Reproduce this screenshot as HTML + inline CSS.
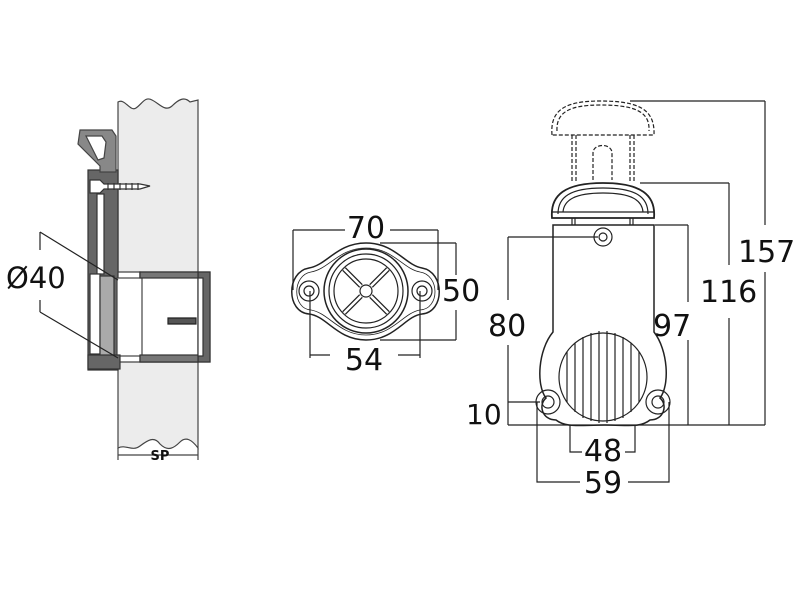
<!DOCTYPE html>
<html><head><meta charset="utf-8"><style>html,body{margin:0;padding:0;background:#fff}svg{display:block}text{font-family:"DejaVu Sans","Liberation Sans",sans-serif;fill:#111}</style></head>
<body>
<svg width="800" height="600" viewBox="0 0 800 600" xmlns="http://www.w3.org/2000/svg">
<g fill="none" stroke="#222" stroke-width="1.2">
<!-- LEFT VIEW: wall -->
<path d="M118,102 C125,98 130,112 136,108 C142,104 145,96 152,100 C160,104 165,112 172,106 C178,100 184,96 190,102 L198,100 L198,278 L140,278 L140,272 L118,272 Z" fill="#ececec" stroke="#444"/>
<path d="M118,362 L198,362 L198,448 C192,440 186,436 180,442 C174,448 168,452 160,444 C154,436 148,440 140,446 C132,452 126,444 118,448 Z" fill="#ececec" stroke="#444"/>
<!-- plate -->
<rect x="88" y="170" width="30" height="200" fill="#666" stroke="#333"/>
<rect x="97" y="194" width="7" height="80" fill="#fff" stroke="#333"/>
<rect x="90" y="274" width="10" height="80" fill="#fff" stroke="#333"/>
<rect x="100" y="276" width="14" height="80" fill="#aaa" stroke="#333"/>
<!-- hook -->
<path d="M80,130 L112,130 L116,136 L116,172 L100,172 L100,166 L78,144 Z" fill="#888" stroke="#444"/>
<path d="M86,136 L102,136 L106,142 L104,158 L98,160 Z" fill="#fff" stroke="#444"/>
<!-- screw -->
<path d="M90,180 L100,180 L104,184 L140,184 L150,186 L140,189 L104,189 L100,193 L90,193 Z" fill="#fff" stroke="#333"/>
<path d="M108,183 v7 M114,183 v7 M120,183 v7 M126,183 v7 M132,183 v7 M138,183 v7" stroke="#333"/>
<!-- pipe -->
<rect x="140" y="272" width="70" height="90" fill="#fff" stroke="#333"/>
<rect x="117" y="278" width="25" height="78" fill="#fff" stroke="#444"/>
<rect x="198" y="272" width="12" height="90" fill="#666" stroke="#333"/>
<rect x="140" y="272" width="58" height="6" fill="#777" stroke="#333"/>
<rect x="140" y="355" width="58" height="7" fill="#777" stroke="#333"/>
<rect x="198" y="278" width="5" height="78" fill="#fff" stroke="#333"/>
<path d="M168,318 L196,318 L196,324 L168,324 Z" fill="#555"/>
<rect x="88" y="355" width="32" height="14" fill="#666" stroke="#333"/>
<!-- SP dim -->
<line x1="118" y1="448" x2="118" y2="460" stroke="#444"/>
<line x1="198" y1="448" x2="198" y2="460" stroke="#444"/>
<line x1="118" y1="455" x2="198" y2="455" stroke="#444"/>
<!-- Ø40 dims -->
<path d="M40,232 L118,280 M40,312 L118,358 M40,232 V250 M40,300 V312"/>
</g>
<text x="160" y="460" font-size="13" font-weight="bold" text-anchor="middle">SP</text>
<text x="6" y="288" font-size="29">Ø40</text>

<!-- MIDDLE VIEW -->
<g fill="none" stroke="#222" stroke-width="1.2">
<path d="M293,230 H345 M390,230 H438 M293,230 V290 M438,230 V290"/>
<path d="M380,243 H456 M380,340 H456 M456,243 V275 M456,310 V340"/>
<path d="M310,291 V358 M420,291 V358 M310,355 H330 M398,355 H420"/>
<path d="M366,243 C395,243 405,265 422,268 C445,272 445,312 422,314 C405,316 395,340 366,340 C337,340 327,316 309,314 C286,312 286,272 309,268 C327,265 337,243 366,243 Z" stroke-width="1.5"/>
<path d="M366,248 C393,248 403,269 420,272 C440,275 440,309 420,310 C403,313 393,335 366,335 C339,335 329,313 311,310 C292,309 292,275 311,272 C329,269 339,248 366,248 Z" stroke-width="0.8"/>
<circle cx="366" cy="291" r="42" stroke-width="1.5"/>
<circle cx="366" cy="291" r="37"/>
<circle cx="366" cy="291" r="32"/>
<circle cx="366" cy="291" r="6"/>
<path d="M344,269 L361,286 M388,269 L371,286 M344,313 L361,296 M388,313 L371,296" stroke-width="5" stroke="#222"/>
<path d="M344,269 L361,286 M388,269 L371,286 M344,313 L361,296 M388,313 L371,296" stroke-width="2.5" stroke="#fff"/>
<circle cx="309" cy="291" r="10"/><circle cx="309" cy="291" r="5"/>
<circle cx="422" cy="291" r="10"/><circle cx="422" cy="291" r="5"/>
</g>
<text x="366" y="238" font-size="30" text-anchor="middle">70</text>
<text x="442" y="301" font-size="30">50</text>
<text x="364" y="370" font-size="30" text-anchor="middle">54</text>

<!-- RIGHT VIEW -->
<g fill="none" stroke="#222" stroke-width="1.2">
<!-- dims -->
<path d="M508,425 H765 M630,101 H765 M765,101 V225 M765,272 V425 M640,183 H729 M729,183 V265 M729,318 V425 M655,225 H688 M688,225 V302 M688,340 V425"/>
<path d="M508,237 H598 M508,237 V300 M508,345 V425 M508,402 H540"/>
<path d="M570,425 V452 H582 M635,425 V452 H625 M537,402 V482 H580 M669,402 V482 H628"/>
<!-- knob dashed -->
<g stroke-dasharray="4,2">
<path d="M552,135 C550,110 565,101 600,101 C640,101 655,110 654,135 Z"/>
<path d="M557,131 C556,112 570,105 600,105 C636,105 650,112 649,131"/>
<path d="M572,135 V183 M576,135 V183 M630,135 V183 M634,135 V183"/>
<path d="M593,180 V153 C593,143 612,143 612,153 V180"/>
</g>
<!-- cap -->
<path d="M552,218 C550,195 565,183 603,183 C641,183 656,195 654,218 Z" stroke-width="1.8"/>
<path d="M558,214 C558,197 570,188 603,188 C636,188 648,197 648,214"/>
<path d="M563,212 C564,200 575,193 603,193 C631,193 642,200 643,212"/>
<line x1="552" y1="212" x2="654" y2="212"/>
<path d="M572,218 V225 M575,218 V225 M630,218 V225 M633,218 V225"/>
<!-- body -->
<path d="M553,225 H654 V332 C668,350 670,385 660,398 C668,405 664,420 650,420 C640,428 628,425 605,425 C580,425 566,428 556,420 C542,420 538,405 546,398 C536,385 538,350 553,332 Z" stroke-width="1.5"/>
<circle cx="603" cy="237" r="9"/><circle cx="603" cy="237" r="4"/>
<circle cx="548" cy="402" r="12"/><circle cx="548" cy="402" r="6"/>
<circle cx="658" cy="402" r="12"/><circle cx="658" cy="402" r="6"/>
<!-- grille -->
<circle cx="603" cy="377" r="44"/>
<path d="M575,343 V412 M583,337 V418 M591,333 V421 M599,331 V423 M607,331 V423 M615,333 V421 M623,337 V418 M631,343 V412 M567,352 V402 M639,352 V402"/>
</g>
<text x="738" y="262" font-size="30">157</text>
<text x="700" y="302" font-size="30">116</text>
<text x="653" y="336" font-size="30">97</text>
<text x="488" y="336" font-size="30">80</text>
<text x="466" y="424" font-size="28">10</text>
<text x="603" y="461" font-size="30" text-anchor="middle">48</text>
<text x="603" y="493" font-size="30" text-anchor="middle">59</text>
</svg>
</body></html>
